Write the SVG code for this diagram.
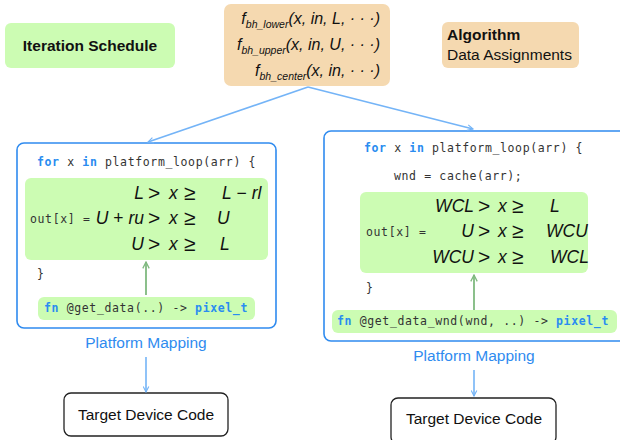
<svg xmlns="http://www.w3.org/2000/svg" width="620" height="440" viewBox="0 0 620 440">
  <defs>
    <marker id="arrowBlue" viewBox="0 0 10 10" refX="9" refY="5" markerWidth="7" markerHeight="7" orient="auto-start-reverse" markerUnits="userSpaceOnUse">
      <path d="M1,1 L9,5 L1,9" fill="none" stroke="#74b4f7" stroke-width="1.6"/>
    </marker>
    <marker id="arrowGreen" viewBox="0 0 10 10" refX="9" refY="5" markerWidth="8" markerHeight="8" orient="auto" markerUnits="userSpaceOnUse">
      <path d="M1,1 L9,5 L1,9" fill="none" stroke="#7fb97f" stroke-width="1.6"/>
    </marker>
    <style>
      .green { fill: #ccfcb3; }
      .tan { fill: #f5d9b0; }
      .frame { fill: #ffffff; stroke: #2f8bef; stroke-width: 1.6; }
      .target { fill: #ffffff; stroke: #222; stroke-width: 1.3; }
      .label { font-family: "Liberation Sans", Arial, sans-serif; font-size: 15.5px; fill: #111; }
      .bold { font-weight: bold; }
      .blueText { font-family: "Liberation Sans", Arial, sans-serif; font-size: 15.5px; fill: #2f8bef; }
      .code { font-family: "DejaVu Sans Mono", monospace; font-size: 11.5px; letter-spacing: 0.63px; fill: #333; }
      .kw { fill: #2a8cf0; font-weight: bold; }
      .math { font-family: "Liberation Sans", Arial, sans-serif; font-style: italic; font-size: 17.5px; fill: #111; }
      .rel { font-family: "Liberation Sans", Arial, sans-serif; font-size: 21px; fill: #111; }
      .fmath { font-family: "Liberation Sans", Arial, sans-serif; font-style: italic; font-size: 16px; fill: #111; }
      .conn { fill: none; stroke: #74b4f7; stroke-width: 1.6; }
      .connGreen { fill: none; stroke: #7fb97f; stroke-width: 1.8; }
    </style>
  </defs>

  <!-- legend tags -->
  <g id="iteration-schedule">
    <rect class="green" x="5" y="23" width="170" height="45" rx="6"/>
    <text class="label bold" x="90" y="51" text-anchor="middle">Iteration Schedule</text>
  </g>

  <g id="algorithm">
    <rect class="tan" x="442" y="22" width="137" height="46" rx="6"/>
    <text class="label bold" x="447" y="40">Algorithm</text>
    <text class="label" x="447" y="60">Data Assignments</text>
  </g>

  <!-- boundary functions -->
  <g id="boundary-functions">
    <rect class="tan" x="224" y="4" width="166" height="82" rx="7"/>
    <text class="fmath" x="380" y="24" text-anchor="end">f<tspan font-size="10.5" dy="4">bh_lower</tspan><tspan dy="-4">(x, </tspan>in<tspan>, L, · · ·)</tspan></text>
    <text class="fmath" x="380" y="50" text-anchor="end">f<tspan font-size="10.5" dy="4">bh_upper</tspan><tspan dy="-4">(x, </tspan>in<tspan>, U, · · ·)</tspan></text>
    <text class="fmath" x="380" y="76" text-anchor="end">f<tspan font-size="10.5" dy="4">bh_center</tspan><tspan dy="-4">(x, </tspan>in<tspan>, · · ·)</tspan></text>
  </g>

  <!-- left kernel: direct boundary handling -->
  <g id="kernel-direct">
    <rect class="frame" x="17" y="143" width="259" height="185" rx="7"/>
    <text class="code" x="37" y="166"><tspan class="kw">for</tspan> x <tspan class="kw">in</tspan> platform_loop(arr) {</text>
    <rect class="green" x="25" y="178" width="243" height="82" rx="6"/>
    <text class="code" x="30" y="223">out[x] =</text>
    <text class="math" x="144" y="199" text-anchor="end">L</text>
    <text class="math" x="144" y="224" text-anchor="end">U<tspan font-style="normal"> + </tspan>ru</text>
    <text class="math" x="144" y="250" text-anchor="end">U</text>
    <g class="rel">
      <text x="148" y="200">&gt;</text>
      <text x="148" y="225">&gt;</text>
      <text x="148" y="251">&gt;</text>
      <text x="184" y="200">≥</text>
      <text x="184" y="225">≥</text>
      <text x="184" y="251">≥</text>
    </g>
    <text class="math" x="169" y="199">x</text>
    <text class="math" x="169" y="224">x</text>
    <text class="math" x="169" y="250">x</text>
    <text class="math" x="222" y="199">L<tspan font-style="normal"> − </tspan>rl</text>
    <text class="math" x="217" y="224">U</text>
    <text class="math" x="220" y="250">L</text>
    <text class="code" x="37" y="278">}</text>
  </g>

  <g id="get-data">
    <rect class="green" x="38" y="297" width="217" height="23" rx="6"/>
    <text class="code" x="44" y="312"><tspan class="kw">fn</tspan> @get_data(..) -&gt; <tspan class="kw">pixel_t</tspan></text>
  </g>

  <!-- right kernel: windowed boundary handling -->
  <g id="kernel-window">
    <rect class="frame" x="324" y="131" width="310" height="210" rx="7"/>
    <text class="code" x="364" y="152"><tspan class="kw">for</tspan> x <tspan class="kw">in</tspan> platform_loop(arr) {</text>
    <text class="code" x="394" y="180">wnd = cache(arr);</text>
    <rect class="green" x="360" y="192" width="228" height="81" rx="6"/>
    <text class="code" x="366" y="236">out[x] =</text>
    <text class="math" x="474" y="212" text-anchor="end">WCL</text>
    <text class="math" x="474" y="237" text-anchor="end">U</text>
    <text class="math" x="474" y="263" text-anchor="end">WCU</text>
    <g class="rel">
      <text x="478" y="213">&gt;</text>
      <text x="478" y="238">&gt;</text>
      <text x="478" y="264">&gt;</text>
      <text x="512" y="213">≥</text>
      <text x="512" y="238">≥</text>
      <text x="512" y="264">≥</text>
    </g>
    <text class="math" x="498" y="212">x</text>
    <text class="math" x="498" y="237">x</text>
    <text class="math" x="498" y="263">x</text>
    <text class="math" x="550" y="212">L</text>
    <text class="math" x="546" y="237">WCU</text>
    <text class="math" x="550" y="263">WCL</text>
    <text class="code" x="366" y="292">}</text>
  </g>

  <g id="get-data-wnd">
    <rect class="green" x="332" y="310" width="285" height="23" rx="6"/>
    <text class="code" x="337" y="325"><tspan class="kw">fn</tspan> @get_data_wnd(wnd, ..) -&gt; <tspan class="kw">pixel_t</tspan></text>
  </g>

  <!-- lowering labels and targets -->
  <g id="mapping-left">
    <text class="blueText" x="146" y="348" text-anchor="middle">Platform Mapping</text>
  </g>
  <g id="mapping-right">
    <text class="blueText" x="474" y="361" text-anchor="middle">Platform Mapping</text>
  </g>

  <g id="target-left">
    <rect class="target" x="64" y="393" width="164" height="43" rx="7"/>
    <text class="label" x="146" y="420" text-anchor="middle">Target Device Code</text>
  </g>

  <g id="target-right">
    <rect class="target" x="391" y="398" width="165" height="46" rx="7"/>
    <text class="label" x="474" y="424" text-anchor="middle">Target Device Code</text>
  </g>

  <!-- connectors -->
  <g id="connectors">
    <path class="conn" d="M308,87 L148,142" marker-end="url(#arrowBlue)"/>
    <path class="conn" d="M308,87 L473,129" marker-end="url(#arrowBlue)"/>
    <path class="connGreen" d="M146,295 L146,262" marker-end="url(#arrowGreen)"/>
    <path class="connGreen" d="M474,310 L474,275" marker-end="url(#arrowGreen)"/>
    <path class="conn" d="M146,357 L146,392" marker-end="url(#arrowBlue)"/>
    <path class="conn" d="M474,370 L474,396" marker-end="url(#arrowBlue)"/>
  </g>
</svg>
